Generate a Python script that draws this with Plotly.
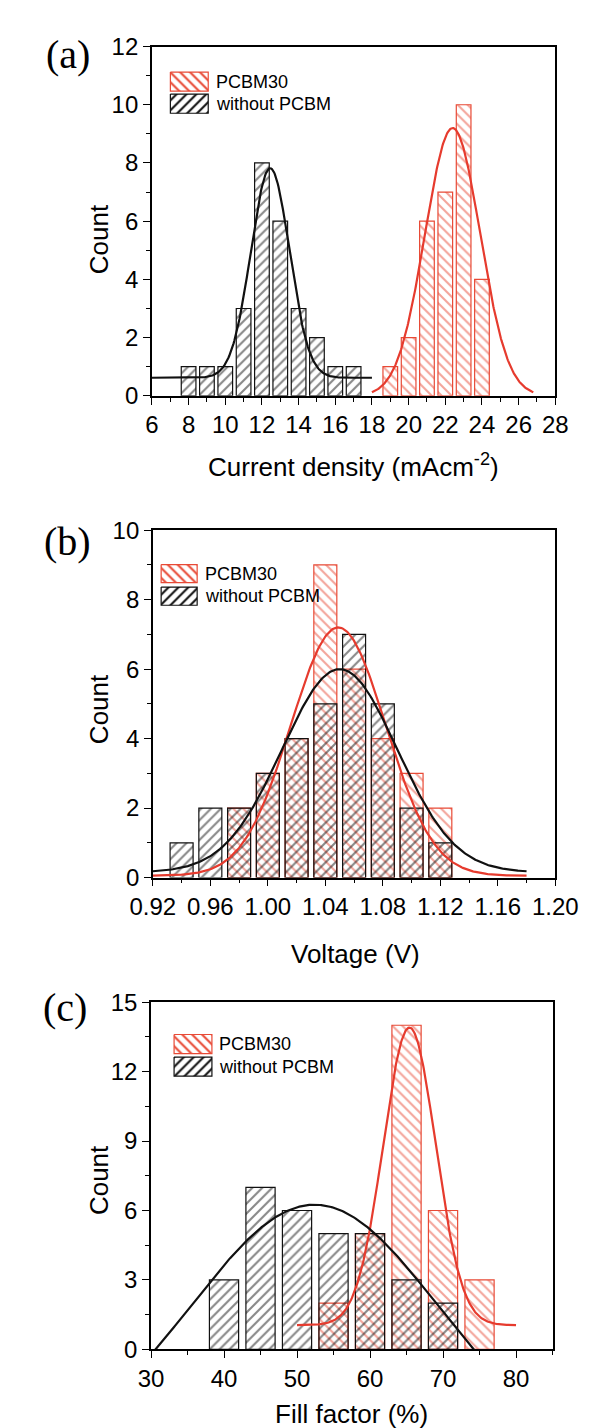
import numpy as np
import plotly.graph_objects as go

# ---------------- data ----------------
# (a) current density histogram
a_black_x = [8, 9, 10, 11, 12, 13, 14, 15, 16, 17]
a_black_y = [1, 1, 1, 3, 8, 6, 3, 2, 1, 1]
a_red_x = [19, 20, 21, 22, 23, 24]
a_red_y = [1, 2, 6, 7, 10, 4]
# Gaussian fit parameters: y0, A, xc, sigma, x-start, x-end
a_black_fit = [0.62, 7.2, 12.45, 1.05, 6.0, 18.0]
a_red_fit = [0.0, 9.2, 22.4, 1.5, 18.0, 26.8]

# (b) voltage histogram
b_black_x = [0.94, 0.96, 0.98, 1.00, 1.02, 1.04, 1.06, 1.08, 1.10, 1.12]
b_black_y = [1, 2, 2, 3, 4, 5, 7, 5, 2, 1]
b_red_x = [0.98, 1.00, 1.02, 1.04, 1.06, 1.08, 1.10, 1.12]
b_red_y = [2, 3, 4, 9, 6, 4, 3, 2]
b_black_fit = [0.15, 5.85, 1.050, 0.040, 0.92, 1.18]
b_red_fit = [0.05, 7.15, 1.049, 0.033, 0.92, 1.18]

# (c) fill factor histogram
c_black_x = [40, 45, 50, 55, 60, 65, 70]
c_black_y = [3, 7, 6, 5, 5, 3, 2]
c_red_x = [55, 60, 65, 70, 75]
c_red_y = [2, 5, 14, 6, 3]
c_black_fit = [-4.92, 11.17, 52.4, 17.0, 30.0, 75.0]
c_red_fit = [1.05, 12.85, 65.4, 3.6, 50.0, 80.0]

series_names = ["PCBM30", "without PCBM"]
panel_labels = ["(a)", "(b)", "(c)"]
x_titles = ["Current density (mAcm<sup>-2</sup>)", "Voltage (V)", "Fill factor (%)"]

# ---------------- style ----------------
W, H = 598, 1428
RED = "#E63B2E"
RED_BAR = "#E84A36"
BLACK = "#111111"
SANS = "Liberation Sans, Arial, sans-serif"
SERIF = "Liberation Serif, Times New Roman, serif"
PAT_SIZE = 7
PAT_SOL = 0.3

# pixel boxes of the plot areas (left, right, top, bottom)
boxes = [(131, 568, 25, 381), (132, 568, 518, 872), (130, 565, 999, 1353)]


def gauss(p, n=300):
    y0, A, xc, s, x0, x1 = p
    xs = np.linspace(x0, x1, n)
    return xs, y0 + A * np.exp(-((xs - xc) ** 2) / (2 * s * s))


fig = go.Figure()


def add_panel(i, bx, by, bw, rx, ry, rw, bfit, rfit):
    xa = "x" if i == 0 else f"x{i+1}"
    ya = "y" if i == 0 else f"y{i+1}"
    fig.add_trace(go.Bar(
        x=rx, y=ry, width=rw, xaxis=xa, yaxis=ya, showlegend=False, name=series_names[0],
        marker=dict(color="rgba(0,0,0,0)", line=dict(color=RED_BAR, width=1.2),
                    pattern=dict(shape="\\", fgcolor=RED_BAR, bgcolor="rgba(0,0,0,0)",
                                 size=PAT_SIZE, solidity=PAT_SOL, fillmode="overlay"))))
    fig.add_trace(go.Bar(
        x=bx, y=by, width=bw, xaxis=xa, yaxis=ya, showlegend=False, name=series_names[1],
        marker=dict(color="rgba(0,0,0,0)", line=dict(color=BLACK, width=1.2),
                    pattern=dict(shape="/", fgcolor=BLACK, bgcolor="rgba(0,0,0,0)",
                                 size=PAT_SIZE, solidity=PAT_SOL, fillmode="overlay"))))
    xs, ys = gauss(rfit)
    fig.add_trace(go.Scatter(x=xs, y=ys, mode="lines", xaxis=xa, yaxis=ya,
                             line=dict(color=RED, width=2.2), showlegend=False))
    xs, ys = gauss(bfit)
    fig.add_trace(go.Scatter(x=xs, y=ys, mode="lines", xaxis=xa, yaxis=ya,
                             line=dict(color=BLACK, width=2.2), showlegend=False))


add_panel(0, a_black_x, a_black_y, 0.8, a_red_x, a_red_y, 0.8, a_black_fit, a_red_fit)
add_panel(1, b_black_x, b_black_y, 0.016, b_red_x, b_red_y, 0.016, b_black_fit, b_red_fit)
add_panel(2, c_black_x, c_black_y, 4.0, c_red_x, c_red_y, 4.0, c_black_fit, c_red_fit)

# axis settings
x_specs = [
    dict(range=[6, 28], tick0=6, dtick=2, minor=dict(dtick=1)),
    dict(range=[0.92, 1.20], tick0=0.92, dtick=0.04, minor=dict(dtick=0.02), tickformat=".2f"),
    dict(range=[30, 85], tick0=30, dtick=10, minor=dict(dtick=5)),
]
y_specs = [
    dict(range=[0, 12], tick0=0, dtick=2, minor=dict(dtick=1)),
    dict(range=[0, 10], tick0=0, dtick=2, minor=dict(dtick=1)),
    dict(range=[0, 15], tick0=0, dtick=3, minor=dict(dtick=1.5)),
]

layout = dict(
    width=W, height=H, margin=dict(l=0, r=0, t=0, b=0),
    paper_bgcolor="white", plot_bgcolor="rgba(0,0,0,0)",
    barmode="overlay", showlegend=False,
    font=dict(family=SANS, color="black"),
)
for i, (l, r, t, b) in enumerate(boxes):
    xk = "xaxis" if i == 0 else f"xaxis{i+1}"
    yk = "yaxis" if i == 0 else f"yaxis{i+1}"
    ya = "y" if i == 0 else f"y{i+1}"
    xa = "x" if i == 0 else f"x{i+1}"
    xs = x_specs[i]
    ys = y_specs[i]
    common = dict(showline=True, linecolor="black", linewidth=1.6, mirror=True,
                  ticks="outside", ticklen=7, tickwidth=1.4, tickcolor="black",
                  showgrid=False, zeroline=False, tickmode="linear",
                  tickfont=dict(family=SANS, size=24, color="black"))
    xminor = dict(ticks="outside", ticklen=4, tickwidth=1.2, tickcolor="black", showgrid=False)
    xminor.update(xs.pop("minor"))
    yminor = dict(ticks="outside", ticklen=4, tickwidth=1.2, tickcolor="black", showgrid=False)
    yminor.update(ys.pop("minor"))
    layout[xk] = dict(domain=[l / W, r / W], anchor=ya, minor=xminor, **common, **xs)
    layout[yk] = dict(domain=[1 - b / H, 1 - t / H], anchor=xa, minor=yminor, **common, **ys)

# overlay axis in page pixel coordinates, used only for legend swatches
layout["xaxis4"] = dict(domain=[0, 1], range=[0, W], visible=False, anchor="y4", fixedrange=True)
layout["yaxis4"] = dict(domain=[0, 1], range=[H, 0], visible=False, anchor="x4", fixedrange=True)
fig.update_layout(**layout)

annotations = []
# legend swatches: (x0, x1, y top red, y top black, height, text x)
legends = [(151, 192, 51, 73.5, 19.5, 198),
           (141, 180, 553, 576, 18.5, 186),
           (155, 196, 1032, 1055, 19.5, 202)]
for (x0, x1, yr, yb, hgt, tx) in legends:
    for name, ytop, col, shp in [(series_names[0], yr, RED_BAR, "\\"),
                                 (series_names[1], yb, BLACK, "/")]:
        fig.add_trace(go.Scatter(
            x=[x0, x1, x1, x0, x0], y=[ytop, ytop, ytop + hgt, ytop + hgt, ytop],
            xaxis="x4", yaxis="y4", mode="lines", fill="toself",
            fillcolor="rgba(0,0,0,0)", line=dict(color=col, width=1.2),
            fillpattern=dict(shape=shp, fgcolor=col, bgcolor="white", size=PAT_SIZE,
                             solidity=PAT_SOL, fillmode="replace"),
            hoverinfo="skip", showlegend=False))
        annotations.append(dict(x=tx / W, y=1 - (ytop + hgt / 2) / H, xref="paper", yref="paper",
                                text=name, showarrow=False, xanchor="left", yanchor="middle",
                                font=dict(family=SANS, size=18, color="black")))

# panel labels
for lab, (px, py) in zip(panel_labels, [(40, 33), (40, 530), (37, 1005)]):
    annotations.append(dict(x=px / W, y=1 - py / H, xref="paper", yref="paper", text=lab,
                            showarrow=False, xanchor="center", yanchor="middle",
                            font=dict(family=SERIF, size=40, color="black")))

# axis titles
for txt, (px, py) in zip(x_titles, [(349, 452), (351, 950), (347, 1419)]):
    annotations.append(dict(x=px / W, y=1 - py / H, xref="paper", yref="paper", text=txt,
                            showarrow=False, xanchor="center", yanchor="middle",
                            font=dict(family=SANS, size=26, color="black")))
for py in [221, 700, 1180]:
    annotations.append(dict(x=73 / W, y=1 - py / H, xref="paper", yref="paper", text="Count",
                            showarrow=False, xanchor="center", yanchor="middle", textangle=-90,
                            font=dict(family=SANS, size=26, color="black")))

fig.update_layout(annotations=annotations)
fig.write_html("out.html")
